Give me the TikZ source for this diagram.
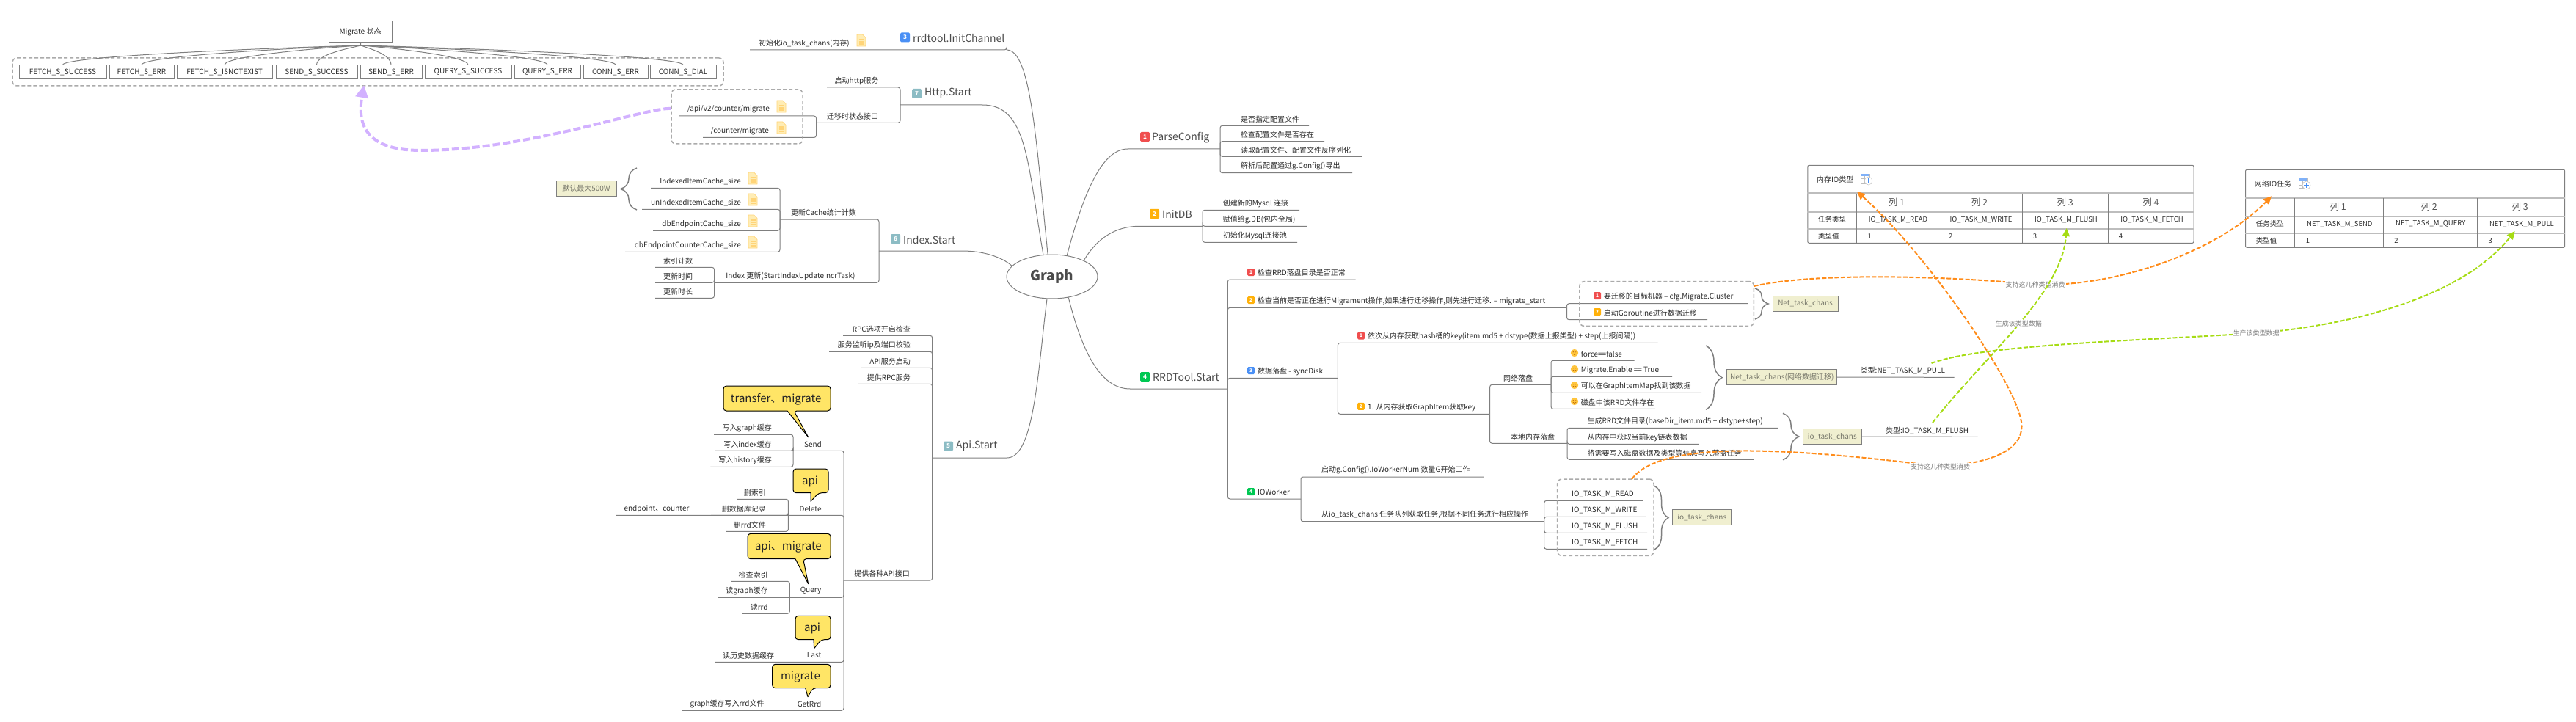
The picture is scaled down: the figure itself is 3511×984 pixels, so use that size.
\documentclass[tikz,border=0pt]{standalone}
\usepackage{fontspec}
\setmainfont{Noto Sans CJK SC}
\usetikzlibrary{arrows.meta,decorations.pathreplacing,shapes.geometric}

\definecolor{linegray}{HTML}{7F7F7F}
\definecolor{dashgray}{HTML}{ABABAB}
\definecolor{txt}{HTML}{2B2B2B}
\definecolor{notefill}{HTML}{F0EFD0}
\definecolor{notetxt}{HTML}{77776A}
\definecolor{sepgray}{HTML}{BDBDBD}
\definecolor{bubblefill}{HTML}{FFE566}
\definecolor{docfill}{HTML}{FFEDB5}
\definecolor{docline}{HTML}{FFD478}
\definecolor{smile}{HTML}{FFC53D}
\definecolor{orangelink}{HTML}{FF8C1A}
\definecolor{greenlink}{HTML}{A6DC14}
\definecolor{purplelink}{HTML}{D2B1FF}
\definecolor{badgered}{HTML}{F04E4E}
\definecolor{badgeamber}{HTML}{FFB10A}
\definecolor{badgeblue}{HTML}{4A90F5}
\definecolor{badgegreen}{HTML}{00C853}
\definecolor{badgeteal}{HTML}{8CBCC4}

\tikzstyle{line} = [draw=linegray, line width=1pt, rounded corners=3pt]
\tikzstyle{main} = [draw=linegray, line width=1pt]
\tikzstyle{lab} = [inner sep=0pt, text=txt, font=\fontsize{10}{12}\selectfont]
\tikzstyle{head} = [inner sep=0pt, text=txt!85, font=\fontsize{14}{16}\selectfont]
\tikzstyle{status} = [rectangle, draw=linegray, line width=1pt, inner sep=0pt, minimum height=18pt, text=txt, font=\fontsize{10}{12}\selectfont]
\tikzstyle{badge} = [rectangle, rounded corners=1.5pt, inner sep=0pt, minimum width=13pt, minimum height=13pt, text=white, font=\bfseries\fontsize{8}{9}\selectfont]
\tikzstyle{badges} = [badge, minimum width=10pt, minimum height=10pt, font=\bfseries\fontsize{6.5}{7}\selectfont]
\tikzstyle{note} = [rectangle, draw=linegray, fill=notefill, line width=1pt, inner sep=0pt, minimum height=21.4pt, text=notetxt, font=\fontsize{10}{12}\selectfont]
\tikzstyle{dashbox} = [rectangle, draw=dashgray, line width=1.5pt, rounded corners=6pt, dash pattern=on 5pt off 3pt, inner sep=0pt]
\tikzstyle{tablebox} = [rectangle, draw=linegray, line width=1pt, rounded corners=2pt, inner sep=0pt]
\tikzstyle{cell} = [inner sep=0pt, text=txt, font=\fontsize{9.5}{11}\selectfont]
\tikzstyle{colhead} = [inner sep=0pt, text=txt!80, font=\fontsize{12.5}{14}\selectfont]
\tikzstyle{sep} = [draw=sepgray, line width=2.4pt]
\tikzstyle{vsep} = [draw=linegray, line width=.8pt]
\tikzstyle{bubble} = [draw=black, fill=bubblefill, line width=1pt, line join=round]
\tikzstyle{bubbletext} = [inner sep=0pt, text=black!85, font=\fontsize{15}{17}\selectfont]
\tikzstyle{curly} = [draw=linegray, line width=1.5pt, decorate, decoration={brace, amplitude=22pt, raise=0pt}]
\tikzstyle{linklab} = [fill=white, inner sep=1pt, text=linegray, font=\fontsize{9}{11}\selectfont]
\tikzstyle{orangearrow} = [draw=orangelink, line width=2pt, dash pattern=on 6pt off 2.5pt, -{Triangle[length=11pt,width=10pt]}]
\tikzstyle{greenarrow} = [draw=greenlink, line width=2pt, dash pattern=on 6pt off 2.5pt, -{Triangle[length=11pt,width=10pt]}]

\tikzset{
  docicon/.pic={
    \draw[draw=docline, fill=docfill, line width=.7pt] (-6,-8) -- (1.5,-8) -- (6,-3.5) -- (6,8) -- (-6,8) -- cycle;
    \draw[draw=docline, line width=1.4pt] (-3.5,-1) -- (3.5,-1) (-3.5,2) -- (3.5,2) (-3.5,5) -- (3.5,5);
  },
  smileicon/.pic={
    \fill[smile] (0,0) circle (5.2);
    \fill[orange!70!black] (-1.8,-1.2) circle (.6) (1.8,-1.2) circle (.6);
    \draw[orange!70!black, line width=.5pt] (-2.2,1.2) .. controls (-1,3) and (1,3) .. (2.2,1.2);
  },
  tableicon/.pic={
    \draw[draw=sepgray, fill=white, line width=.6pt] (-8,-7.5) rectangle (4,6);
    \fill[badgeblue!70] (-8,-7.5) rectangle (4,-4);
    \draw[draw=sepgray, line width=.5pt] (-8,-1) -- (4,-1) (-8,2) -- (4,2) (-3,-4) -- (-3,6);
    \draw[draw=sepgray, fill=white, line width=.5pt] (2.5,2) circle (5.5);
    \draw[badgeblue, line width=1pt] (-.8,2) -- (5.8,2) (2.5,-1.3) -- (2.5,5.3);
  }
}

% twig: from, name, anchor, text x, line y, line end x, text
\newcommand{\twig}[7]{%
  \node[lab, anchor=#3] (#2) at (#4,#5-9) {#7};
  \coordinate (#2e) at (#6,#5);
  \draw[line] (#1) |- (#2e);
}
% bubble: left, right, top, bottom, tail base 1, tail base 2, tip x, tip y
\newcommand{\bubbleshape}[8]{%
  \draw[bubble, rounded corners=4pt] ({(#1+#2)/2},#3) -- (#2,#3) -- (#2,#4) -- (#6,#4) [sharp corners] -- (#7,#8) -- (#5,#4) [rounded corners=4pt] -- (#1,#4) -- (#1,#3) -- cycle;
}

\begin{document}
\begin{tikzpicture}[x=1pt, y=-1pt, >=stealth]
  \useasboundingbox (0,0) rectangle (3511,984);

  % centre
  \node[ellipse, draw=linegray, line width=1pt, minimum width=124pt, minimum height=60pt, inner sep=0pt, text=txt!85, font=\bfseries\fontsize{19}{21}\selectfont] (graph) at (1434,377) {Graph};

  % migrate states
  \node[dashbox, minimum width=969pt, minimum height=38pt] (statusbox) at (501.5,98) {};
  \node[status, minimum width=86pt, minimum height=29pt] (migrate) at (491,43.5) {Migrate 状态};
  \coordinate (hub) at (491.7,62);
  \draw[main] (migrate) -- (hub);
  \node[status, minimum width=119pt] (st1) at (85.5,98) {FETCH\_S\_SUCCESS};
  \node[status, minimum width=88pt] (st2) at (193,98) {FETCH\_S\_ERR};
  \node[status, minimum width=130pt] (st3) at (306,98) {FETCH\_S\_ISNOTEXIST};
  \node[status, minimum width=111pt] (st4) at (431.5,98) {SEND\_S\_SUCCESS};
  \node[status, minimum width=84pt] (st5) at (533,98) {SEND\_S\_ERR};
  \node[status, minimum width=118pt] (st6) at (638,98) {QUERY\_S\_SUCCESS};
  \node[status, minimum width=90pt] (st7) at (746,98) {QUERY\_S\_ERR};
  \node[status, minimum width=88pt] (st8) at (839,98) {CONN\_S\_ERR};
  \node[status, minimum width=90pt] (st9) at (931,98) {CONN\_S\_DIAL};
  \draw[main] (hub) .. controls (382,65) and (85.5,76) .. (st1.north);
  \draw[main] (hub) .. controls (411,65) and (193,76) .. (st2.north);
  \draw[main] (hub) .. controls (441,65) and (306,76) .. (st3.north);
  \draw[main] (hub) .. controls (475,66) and (431.5,74) .. (st4.north);
  \draw[main] (hub) .. controls (503,66) and (533,74) .. (st5.north);
  \draw[main] (hub) .. controls (531,65) and (638,76) .. (st6.north);
  \draw[main] (hub) .. controls (561,65) and (746,76) .. (st7.north);
  \draw[main] (hub) .. controls (586,65) and (839,76) .. (st8.north);
  \draw[main] (hub) .. controls (610,65) and (931,76) .. (st9.north);

  % rrdtool.InitChannel
  \node[badge, fill=badgeblue] (bd3) at (1233.5,51) {3};
  \node[head, anchor=west] (initchan) at (1244,52) {rrdtool.InitChannel};
  \coordinate (initsp) at (1372,68);
  \twig{initsp}{initio}{east}{1158}{68}{1022}{初始化io\_task\_chans(内存)}
  \pic at (1174,55) {docicon};
  \draw[main] (initsp) .. controls (1405,68) and (1412,190) .. (graph.101);

  % Http.Start
  \node[badge, fill=badgeteal] (bd7) at (1249.5,127.5) {7};
  \node[head, anchor=west] (httpstart) at (1260,127) {Http.Start};
  \coordinate (httpsp) at (1227,143);
  \draw[main] (httpsp) -- ++(112,0) .. controls (1400,143) and (1400,220) .. (graph.112);
  \twig{httpsp}{httprun}{center}{1167.5}{119}{1127}{启动http服务}
  \twig{httpsp}{httpmig}{center}{1162}{167.3}{1112.5}{迁移时状态接口}
  \twig{httpmige}{apimig}{east}{1049}{158}{925}{/api/v2/counter/migrate}
  \twig{httpmige}{ctrmig}{east}{1048}{187.5}{958}{/counter/migrate}
  \pic at (1065,145) {docicon};
  \pic at (1065,174) {docicon};
  \node[dashbox, minimum width=179pt, minimum height=74pt] (apibox) at (1004.5,159) {};

  % Index.Start
  \node[badge, fill=badgeteal] (bd6) at (1220.5,325.5) {6};
  \node[head, anchor=west] (indexstart) at (1231,326.7) {Index.Start};
  \coordinate (indexsp) at (1198,342);
  \draw[main] (indexsp) -- ++(114,0) .. controls (1340,342) and (1365,350) .. (graph.165);
  \twig{indexsp}{cachecnt}{center}{1122.5}{299}{1063}{更新Cache统计计数}
  \twig{indexsp}{idxupd}{center}{1077.5}{385.3}{973.5}{Index 更新(StartIndexUpdateIncrTask)}
  \twig{cachecnte}{cache1}{east}{1010}{256.3}{887}{IndexedItemCache\_size}
  \twig{cachecnte}{cache2}{east}{1010}{285.3}{875}{unIndexedItemCache\_size}
  \twig{cachecnte}{cache3}{east}{1010}{314.3}{890}{dbEndpointCache\_size}
  \twig{cachecnte}{cache4}{east}{1010}{343.3}{852}{dbEndpointCounterCache\_size}
  \pic at (1026,243) {docicon};
  \pic at (1026,272) {docicon};
  \pic at (1026,301) {docicon};
  \pic at (1026,330) {docicon};
  \draw[curly] (868,286) -- (868,229);
  \node[note, minimum width=82pt] (cachenote) at (799,257) {默认最大500W};
  \twig{idxupde}{idx1}{center}{924}{364.3}{893}{索引计数}
  \twig{idxupde}{idx2}{center}{924}{385.3}{893}{更新时间}
  \twig{idxupde}{idx3}{center}{924}{406.3}{893}{更新时长}

  % Api.Start
  \node[badge, fill=badgeteal] (bd5) at (1292.5,608) {5};
  \node[head, anchor=west] (apistart) at (1303,608) {Api.Start};
  \coordinate (apisp) at (1270.7,624);
  \draw[main] (apisp) -- ++(102,0) .. controls (1410,624) and (1415,500) .. (graph.-103);
  \twig{apisp}{rpc1}{east}{1241}{457.3}{1149}{RPC选项开启检查}
  \twig{apisp}{rpc2}{east}{1241}{479.3}{1130}{服务监听ip及端口校验}
  \twig{apisp}{rpc3}{east}{1241}{501.3}{1174}{API服务启动}
  \twig{apisp}{rpc4}{east}{1241}{523.3}{1169}{提供RPC服务}
  \twig{apisp}{apis}{east}{1240}{791}{1150}{提供各种API接口}
  \twig{apise}{send}{center}{1108}{614.3}{975}{Send}
  \twig{apise}{delete}{center}{1104.6}{702.3}{840}{Delete}
  \twig{apise}{query}{center}{1105}{814.3}{978}{Query}
  \twig{apise}{last}{center}{1109.6}{902.3}{974}{Last}
  \twig{apise}{getrrd}{center}{1103}{968.3}{929}{GetRrd}
  \coordinate (sendsp) at (1081,614.3);
  \twig{sendsp}{send1}{east}{1052}{592.3}{973}{写入graph缓存}
  \twig{sendsp}{send2}{east}{1052}{614.3}{975}{写入index缓存}
  \twig{sendsp}{send3}{east}{1052}{636.3}{968.4}{写入history缓存}
  \coordinate (delsp) at (1074.4,702.3);
  \twig{delsp}{del1}{east}{1044}{680.3}{1004}{删索引}
  \twig{delsp}{del2}{east}{1044}{702.3}{969}{删数据库记录}
  \twig{delsp}{del3}{east}{1044}{724.3}{990}{删rrd文件}
  \node[lab, anchor=center] (delnote) at (895,693.3) {endpoint、counter};
  \coordinate (querysp) at (1076.3,814.3);
  \twig{querysp}{qry1}{east}{1046.8}{792.3}{996}{检查索引}
  \twig{querysp}{qry2}{east}{1046.8}{814.3}{978}{读graph缓存}
  \twig{querysp}{qry3}{east}{1046.8}{836.3}{1012}{读rrd}
  \node[lab, anchor=center] (lastread) at (1020,893.3) {读历史数据缓存};
  \node[lab, anchor=center] (getwrite) at (991,959.3) {graph缓存写入rrd文件};

  % callouts
  \bubbleshape{986}{1132}{526}{560}{1073}{1082}{1101.6}{595.7}
  \node[bubbletext] (bubsend) at (1057.6,544) {transfer、migrate};
  \bubbleshape{1081}{1129}{639}{671.7}{1105}{1116}{1105}{683.3}
  \node[bubbletext] (bubdel) at (1104,656.5) {api};
  \bubbleshape{1019}{1132}{727.3}{761.7}{1084}{1094.7}{1101.6}{795.7}
  \node[bubbletext] (bubqry) at (1074.4,745.5) {api、migrate};
  \bubbleshape{1084}{1132}{839.3}{871.7}{1109}{1119.5}{1109.6}{883.7}
  \node[bubbletext] (bublast) at (1107,856.5) {api};
  \bubbleshape{1052.6}{1132}{905.3}{937.7}{1097.7}{1108}{1101}{949.7}
  \node[bubbletext] (bubget) at (1091,922.5) {migrate};

  % ParseConfig
  \node[badge, fill=badgered] (bd1) at (1560.5,186.5) {1};
  \node[head, anchor=west] (parse) at (1570,187.7) {ParseConfig};
  \coordinate (parsesp) at (1663,203);
  \draw[main] (parsesp) -- ++(-126,0) .. controls (1500,203) and (1475,270) .. (graph.55);
  \twig{parsesp}{pc1}{west}{1691}{171.3}{1784}{是否指定配置文件}
  \twig{parsesp}{pc2}{west}{1691}{192.7}{1805}{检查配置文件是否存在}
  \twig{parsesp}{pc3}{west}{1691}{213.3}{1856}{读取配置文件、配置文件反序列化}
  \twig{parsesp}{pc4}{west}{1691}{235.7}{1843}{解析后配置通过g.Config()导出}

  % InitDB
  \node[badge, fill=badgeamber] (bd2) at (1573.5,291.3) {2};
  \node[head, anchor=west] (initdb) at (1584,292.3) {InitDB};
  \coordinate (dbsp) at (1639,308.3);
  \draw[main] (dbsp) -- ++(-86,0) .. controls (1520,308.3) and (1495,325) .. (graph.27);
  \twig{dbsp}{db1}{west}{1666.6}{286.3}{1771}{创建新的Mysql 连接}
  \twig{dbsp}{db2}{west}{1666.6}{308.3}{1781}{赋值给g.DB(包内全局)}
  \twig{dbsp}{db3}{west}{1666.6}{330.3}{1768}{初始化Mysql连接池}

  % RRDTool.Start
  \node[badge, fill=badgegreen] (bd4) at (1560.5,513.5) {4};
  \node[head, anchor=west] (rrdstart) at (1571,514.3) {RRDTool.Start};
  \coordinate (rrdsp) at (1673.3,530);
  \draw[main] (rrdsp) -- ++(-133,0) .. controls (1500,530) and (1475,480) .. (graph.-52);
  \twig{rrdsp}{chk}{west}{1714}{381}{1847.7}{检查RRD落盘目录是否正常}
  \twig{rrdsp}{mig}{west}{1714}{419.3}{2135.5}{检查当前是否正在进行Migrament操作,如果进行迁移操作,则先进行迁移. – migrate\_start}
  \twig{rrdsp}{sync}{west}{1714}{515.3}{1823.4}{数据落盘 - syncDisk}
  \twig{rrdsp}{iow}{west}{1714}{680}{1773}{IOWorker}
  \node[badges, fill=badgered] (bdchk) at (1705,371) {1};
  \node[badges, fill=badgeamber] (bdmig) at (1705,409) {2};
  \node[badges, fill=badgeblue] (bdsync) at (1705,505) {3};
  \node[badges, fill=badgegreen] (bdiow) at (1705,670) {4};

  % migrate_start
  \twig{mige}{mig1}{west}{2185.6}{413.7}{2382}{要迁移的目标机器 – cfg.Migrate.Cluster}
  \twig{mige}{mig2}{west}{2185.6}{435.7}{2327}{启动Goroutine进行数据迁移}
  \node[badges, fill=badgered] (bdmig1) at (2177,403) {1};
  \node[badges, fill=badgeamber] (bdmig2) at (2177,425) {2};
  \node[dashbox, minimum width=237.5pt, minimum height=60.6pt] (migbox) at (2271.7,414) {};
  \draw[curly, decoration={amplitude=18pt}] (2392,393) -- (2392,435);
  \node[note, minimum width=89pt] (netnote1) at (2460.5,413.7) {Net\_task\_chans};

  % syncDisk
  \twig{synce}{sy1}{west}{1864}{467.3}{2259.6}{依次从内存获取hash桶的key(item.md5  + dstype(数据上报类型) + step(上报间隔))}
  \twig{synce}{sy2}{west}{1864}{564.3}{2030.6}{1. 从内存获取GraphItem获取key}
  \node[badges, fill=badgered] (bdsy1) at (1855,457.5) {1};
  \node[badges, fill=badgeamber] (bdsy2) at (1855,553.8) {2};
  \twig{sy2e}{netdisk}{center}{2069}{524.3}{2114}{网络落盘}
  \twig{sy2e}{memdisk}{center}{2089}{604.3}{2136}{本地内存落盘}
  \twig{netdiske}{nd1}{west}{2154.6}{491.3}{2227.5}{force==false}
  \twig{netdiske}{nd2}{west}{2154.6}{513.3}{2279}{Migrate.Enable == True}
  \twig{netdiske}{nd3}{west}{2154.6}{535.3}{2319}{可以在GraphItemMap找到该数据}
  \twig{netdiske}{nd4}{west}{2154.6}{557.3}{2256}{磁盘中该RRD文件存在}
  \pic at (2146,481) {smileicon};
  \pic at (2146,503) {smileicon};
  \pic at (2146,525) {smileicon};
  \pic at (2146,547) {smileicon};
  \draw[curly] (2325,471) -- (2325,558.3);
  \node[note, minimum width=150pt] (netnote2) at (2428.7,514) {Net\_task\_chans(网络数据迁移)};
  \coordinate (nettype) at (2663.6,514.3);
  \draw[main] (netnote2) -- (nettype);
  \node[lab] (nettypelab) at (2593.3,505.3) {类型:NET\_TASK\_M\_PULL};
  \twig{memdiske}{md1}{west}{2163.4}{583.3}{2423}{生成RRD文件目录(baseDir\_item.md5 + dstype+step)}
  \twig{memdiske}{md2}{west}{2163.4}{605.3}{2315}{从内存中获取当前key链表数据}
  \twig{memdiske}{md3}{west}{2163.4}{626.3}{2390}{将需要写入磁盘数据及类型等信息写入落盘任务}
  \draw[curly] (2430,563.3) -- (2430,626.7);
  \node[note, minimum width=80pt] (ionote1) at (2497.2,595) {io\_task\_chans};
  \coordinate (iotype) at (2695.5,595.3);
  \draw[main] (ionote1) -- (iotype);
  \node[lab] (iotypelab) at (2626.5,586.7) {类型:IO\_TASK\_M\_FLUSH};

  % IOWorker
  \twig{iowe}{io1}{west}{1801}{650}{2022}{启动g.Config().IoWorkerNum 数量G开始工作}
  \twig{iowe}{io2}{west}{1801}{710.7}{2104.7}{从io\_task\_chans 任务队列获取任务,根据不同任务进行相应操作}
  \twig{io2e}{ioc1}{west}{2142}{682.3}{2239}{IO\_TASK\_M\_READ}
  \twig{io2e}{ioc2}{west}{2142}{704.3}{2243}{IO\_TASK\_M\_WRITE}
  \twig{io2e}{ioc3}{west}{2142}{726.3}{2245}{IO\_TASK\_M\_FLUSH}
  \twig{io2e}{ioc4}{west}{2142}{748.3}{2245}{IO\_TASK\_M\_FETCH}
  \node[dashbox, minimum width=131.4pt, minimum height=104.3pt] (iobox) at (2188.3,705.2) {};
  \draw[curly, decoration={amplitude=19pt}] (2255,662.3) -- (2255,749);
  \node[note, minimum width=80.5pt] (ionote2) at (2319.7,705) {io\_task\_chans};

  % memory IO table
  \node[tablebox, minimum width=526.2pt, minimum height=106pt] (iotable) at (2726.9,278.3) {};
  \node[lab, anchor=west] (iotitle) at (2475.8,244.3) {内存IO类型};
  \pic at (2544,244.5) {tableicon};
  \draw[sep] (iotable.west |- 0,263.7) -- (iotable.east |- 0,263.7);
  \draw[sep] (iotable.west |- 0,289) -- (iotable.east |- 0,289);
  \draw[sep] (iotable.west |- 0,312) -- (iotable.east |- 0,312);
  \draw[vsep] (2530.4,263.7) -- (2530.4,0 |- iotable.south);
  \draw[vsep] (2641.7,263.7) -- (2641.7,0 |- iotable.south);
  \draw[vsep] (2756.5,263.7) -- (2756.5,0 |- iotable.south);
  \draw[vsep] (2873.4,263.7) -- (2873.4,0 |- iotable.south);
  \node[colhead] (ioh1) at (2585,276.3) {列 1};
  \node[colhead] (ioh2) at (2698,276.3) {列 2};
  \node[colhead] (ioh3) at (2814.6,276.3) {列 3};
  \node[colhead] (ioh4) at (2931.5,276.3) {列 4};
  \node[cell, anchor=west] (iorow1) at (2478,299) {任务类型};
  \node[cell] (iot1) at (2587,299.7) {IO\_TASK\_M\_READ};
  \node[cell] (iot2) at (2700,299.7) {IO\_TASK\_M\_WRITE};
  \node[cell] (iot3) at (2816,299.7) {IO\_TASK\_M\_FLUSH};
  \node[cell] (iot4) at (2933,299.7) {IO\_TASK\_M\_FETCH};
  \node[cell, anchor=west] (iorow2) at (2478,322) {类型值};
  \node[cell, anchor=west] (iov1) at (2545.3,322.3) {1};
  \node[cell, anchor=west] (iov2) at (2655.8,322.3) {2};
  \node[cell, anchor=west] (iov3) at (2770.7,322.3) {3};
  \node[cell, anchor=west] (iov4) at (2887.6,322.3) {4};

  % network IO table
  \node[tablebox, minimum width=435.2pt, minimum height=106pt] (nettable) at (3278.1,284.3) {};
  \node[lab, anchor=west] (nettitle) at (3072.6,250.3) {网络IO任务};
  \pic at (3141,250.5) {tableicon};
  \draw[sep] (nettable.west |- 0,270) -- (nettable.east |- 0,270);
  \draw[sep] (nettable.west |- 0,295) -- (nettable.east |- 0,295);
  \draw[sep] (nettable.west |- 0,318) -- (nettable.east |- 0,318);
  \draw[vsep] (3127.8,270) -- (3127.8,0 |- nettable.south);
  \draw[vsep] (3248.3,270) -- (3248.3,0 |- nettable.south);
  \draw[vsep] (3376.6,270) -- (3376.6,0 |- nettable.south);
  \node[colhead] (neth1) at (3186.7,282.3) {列 1};
  \node[colhead] (neth2) at (3310.7,282.3) {列 2};
  \node[colhead] (neth3) at (3434.7,282.3) {列 3};
  \node[cell, anchor=west] (netrow1) at (3074.7,305) {任务类型};
  \node[cell] (nett1) at (3188.8,305.3) {NET\_TASK\_M\_SEND};
  \node[cell] (nett2) at (3312.8,305.3) {NET\_TASK\_M\_QUERY};
  \node[cell] (nett3) at (3436.9,305.3) {NET\_TASK\_M\_PULL};
  \node[cell, anchor=west] (netrow2) at (3074.7,328) {类型值};
  \node[cell, anchor=west] (netv1) at (3142.7,328) {1};
  \node[cell, anchor=west] (netv2) at (3263.2,328) {2};
  \node[cell, anchor=west] (netv3) at (3391.5,328) {3};

  % links
  \coordinate (migout) at (2390.5,390);
  \coordinate (netcell) at (3096,267.3);
  \coordinate (ioout) at (2224,653);
  \coordinate (iocell) at (2531,261);
  \coordinate (flushout) at (2634,576);
  \coordinate (flushcell) at (2816.7,311);
  \coordinate (pullout) at (2632.5,495);
  \coordinate (pullcell) at (3427.6,315);
  \draw[draw=purplelink, line width=4pt, dash pattern=on 10pt off 4pt, -{Triangle[length=17pt,width=17pt]}] (apibox.west |- 0,148) .. controls (880,146) and (720,205) .. (574,205) .. controls (510,205) and (485,180) .. (496,116);
  \draw[orangearrow] (migout) .. controls (2470,372) and (2640,375) .. (2774,387.7) node[linklab] (lnk1) {支持这几种类型消费} .. controls (2880,392) and (3020,345) .. (netcell);
  \draw[orangearrow] (ioout) .. controls (2260,605) and (2400,605) .. (2644.5,635.7) node[linklab] (lnk2) {支持这几种类型消费} .. controls (2740,630) and (2762,600) .. (2754,570) .. controls (2740,510) and (2620,340) .. (iocell);
  \draw[greenarrow] (flushout) .. controls (2710,480) and (2810,400) .. node[linklab, pos=.5] (lnk3) {生成该类型数据} (flushcell);
  \draw[greenarrow] (pullout) .. controls (2700,470) and (2900,465) .. (3075,454) node[linklab] (lnk4) {生产该类型数据} .. controls (3220,442) and (3360,400) .. (pullcell);
\end{tikzpicture}
\end{document}
